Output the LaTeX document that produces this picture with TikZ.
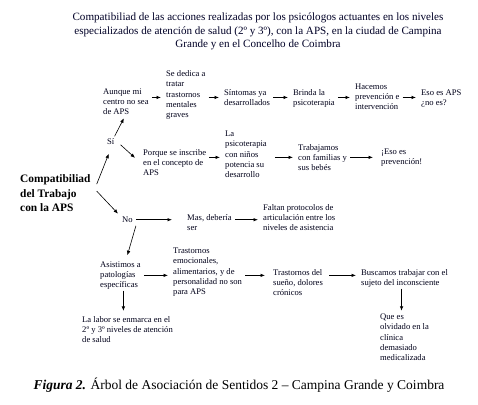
\documentclass[tikz,border=0pt]{standalone}
\usepackage{fontspec}
\setmainfont{Liberation Serif}
\usetikzlibrary{arrows.meta}
\begin{document}
\begin{tikzpicture}[x=1pt,y=-1pt,
  txt/.style={anchor=base west,inner sep=0pt,align=left,font=\fontsize{8.6}{10.2}\selectfont,text=black!90!blue},
  arr/.style={-{Latex[length=4.5pt,width=3.6pt]},line width=0.8pt,shorten <=3pt,shorten >=5pt},
  darr/.style={-{Latex[length=4.5pt,width=3.6pt]},line width=0.6pt}]
\useasboundingbox (0,0) rectangle (478,404);
\node[anchor=base,inner sep=0pt,align=center,font=\fontsize{11.1}{13}\selectfont,text=black!85!blue] (title) at (258,47)
  {Compatibiliad de las acciones realizadas por los psicólogos actuantes en los niveles\\
   especializados de atención de salud (2º y 3º), con la APS, en la ciudad de Campina\\
   Grande y en el Concelho de Coimbra};
% row 1
\node[txt] (aunque) at (103,114.5) {Aunque mi\\centro no sea\\de APS};
\node[txt] (sededica) at (166,117.5) {Se dedica a\\tratar\\trastornos\\mentales\\graves};
\node[txt] (sintomas) at (224,105.5) {Síntomas ya\\desarrollados};
\node[txt] (brinda) at (293,105.5) {Brinda la\\psicoterapia};
\node[txt] (hacemos) at (355,109.5) {Hacemos\\prevención e\\intervención};
\node[txt] (esoaps) at (421,105.5) {Eso es APS\\¿no es?};
% row 2
\node[txt] (si) at (107,144.5) {Sí};
\node[txt] (porque) at (143,175.5) {Porque se inscribe\\en el concepto de\\APS};
\node[txt] (lapsico) at (225,177.5) {La\\psicoterapia\\con niños\\potencia su\\desarrollo};
\node[txt] (trabajamos) at (298,170.5) {Trabajamos\\con familias y\\sus bebés};
\node[txt] (esoprev) at (381,164.5) {¡Eso es\\prevención!};
% root
\node[anchor=base west,inner sep=0pt,align=left,font=\fontsize{11.4}{14.5}\selectfont\bfseries] (compat) at (20,211.5) {Compatibiliad\\del Trabajo\\con la APS};
% no row
\node[txt] (no) at (122,222.5) {No};
\node[txt] (mas) at (187,230.5) {Mas, debería\\ser};
\node[txt] (faltan) at (263,230.5) {Faltan protocolos de\\articulación entre los\\niveles de asistencia};
% bottom row
\node[txt] (asistimos) at (100,287.5) {Asistimos a\\patologías\\específicas};
\node[txt] (tremo) at (173,294.5) {Trastornos\\emocionales,\\alimentarios, y de\\personalidad no son\\para APS};
\node[txt] (trsueno) at (273,295.5) {Trastornos del\\sueño, dolores\\crónicos};
\node[txt] (buscamos) at (361,285.5) {Buscamos trabajar con el\\sujeto del inconsciente};
\node[txt] (quees) at (380,360.5) {Que es\\olvidado en la\\clínica\\demasiado\\medicalizada};
\node[txt] (labor) at (82,342.5) {La labor se enmarca en el\\2º y 3º niveles de atención\\de salud};
% caption
\node[anchor=base,inner sep=0pt,font=\fontsize{13.5}{15}\selectfont] (caption) at (239,389)
  {\textbf{\textit{Figura 2.}} Árbol de Asociación de Sentidos 2 – Campina Grande y Coimbra};
% arrows row 1
\draw[arr] (aunque.east |- sintomas.west) -- (sededica.west |- sintomas.west);
\draw[arr] (sededica.east |- sintomas.west) -- (sintomas.west);
\draw[arr] (sintomas.east) -- (brinda.west |- sintomas.west);
\draw[arr] (brinda.east |- sintomas.west) -- (hacemos.west |- sintomas.west);
\draw[arr] (hacemos.east |- sintomas.west) -- (esoaps.west |- sintomas.west);
% arrows row 2
\draw[arr] (porque.east |- trabajamos.west) -- (lapsico.west |- trabajamos.west);
\draw[arr,shorten <=8pt] (lapsico.east |- trabajamos.west) -- (trabajamos.west);
\draw[arr,shorten >=8pt] (trabajamos.east) -- (esoprev.west |- trabajamos.west);
% no row
\draw[arr,shorten >=15pt] (no.east) -- (mas.west |- no.west);
\draw[arr] (mas.east |- no.west) -- (faltan.west |- no.west);
% bottom row
\draw[arr] (asistimos.east) -- (tremo.west |- asistimos.west);
\draw[arr,shorten >=8pt] (tremo.east |- asistimos.west) -- (trsueno.west |- asistimos.west);
\draw[arr,shorten <=6pt] (trsueno.east |- asistimos.west) -- (buscamos.west |- asistimos.west);
% verticals
\draw[arr,shorten <=1pt,shorten >=5pt] ([xshift=3pt]asistimos.south) -- ([xshift=3pt]asistimos.south |- labor.north);
\draw[arr,shorten <=1pt,shorten >=3pt] ([xshift=-3pt]buscamos.south) -- ([xshift=-3pt]buscamos.south |- quees.north);
% diagonals
\draw[darr] ([xshift=6pt,yshift=9pt]compat.east) -- ([xshift=-2pt,yshift=-9pt]si.south);
\draw[darr] ([xshift=6pt,yshift=2pt]compat.east) -- ([xshift=-4pt,yshift=3pt]no.north west);
\draw[darr] ([xshift=0pt,yshift=2pt]si.north east) -- ([xshift=-2pt,yshift=-3.5pt]aunque.south);
\draw[darr] ([xshift=6pt,yshift=0pt]si.south east) -- ([xshift=-8pt,yshift=4.5pt]porque.west);
\draw[darr] ([xshift=3pt,yshift=-3pt]no.south east) -- ([xshift=7pt,yshift=6pt]asistimos.north);
\end{tikzpicture}
\end{document}
